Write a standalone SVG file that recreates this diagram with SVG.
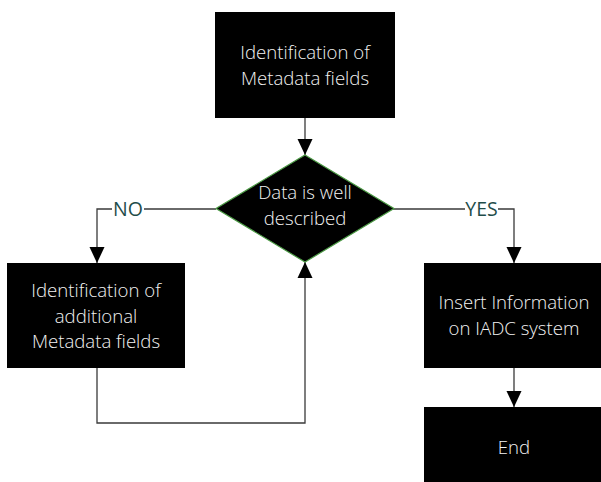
<svg xmlns="http://www.w3.org/2000/svg" width="601" height="482" viewBox="0 0 601 482">
  <style>
    .box { fill: #000000; }
    .dec { fill: #000000; stroke: #4c9a45; stroke-width: 1.2; }
    .txt { font-family: "Open Sans", "Noto Sans", "Liberation Sans", sans-serif; font-size: 18.6px; font-weight: 300; fill: #f2f2f2; text-anchor: middle; }
    .lbl { font-family: "Open Sans", "Noto Sans", "Liberation Sans", sans-serif; font-size: 19.5px; fill: #1f4d4a; text-anchor: middle; }
    .conn { fill: none; stroke: #3a3a3a; stroke-width: 1.3; }
  </style>
  <defs>
    <marker id="arrow" markerUnits="userSpaceOnUse" markerWidth="16" markerHeight="16" viewBox="0 0 16 15" refX="16" refY="7.5" orient="auto">
      <path d="M0,0 L16,7.5 L0,15 z" fill="#000000"/>
    </marker>
  </defs>
  <rect width="601" height="482" fill="#ffffff"/>

  <g id="connectors">
    <path class="conn" d="M305,118 V155" marker-end="url(#arrow)"/>
    <path class="conn" d="M216,209 H144 M112,209 H97 V263" marker-end="url(#arrow)"/>
    <path class="conn" d="M393,209 H465 M498,209 H514 V263" marker-end="url(#arrow)"/>
    <path class="conn" d="M97,368 V423 H305 V262" marker-end="url(#arrow)"/>
    <path class="conn" d="M514,368 V407" marker-end="url(#arrow)"/>
    <text class="lbl" x="128" y="216">NO</text>
    <text class="lbl" x="481.5" y="216">YES</text>
  </g>

  <g id="identify">
    <rect class="box" x="215" y="12" width="180" height="106"/>
    <text class="txt" x="305" y="59">Identification of</text>
    <text class="txt" x="305" y="84.5">Metadata fields</text>
  </g>

  <g id="decision">
    <polygon class="dec" points="305,155 394,208.5 305,262 216,208.5"/>
    <text class="txt" x="305" y="199">Data is well</text>
    <text class="txt" x="305" y="225">described</text>
  </g>

  <g id="additional">
    <rect class="box" x="7" y="263" width="178" height="105"/>
    <text class="txt" x="96" y="297">Identification of</text>
    <text class="txt" x="96" y="322.5">additional</text>
    <text class="txt" x="96" y="348">Metadata fields</text>
  </g>

  <g id="insert">
    <rect class="box" x="424" y="263" width="180" height="105"/>
    <text class="txt" x="514" y="309">Insert Information</text>
    <text class="txt" x="514" y="334.5">on IADC system</text>
  </g>

  <g id="end">
    <rect class="box" x="424" y="407" width="180" height="80"/>
    <text class="txt" x="514" y="454">End</text>
  </g>
</svg>
